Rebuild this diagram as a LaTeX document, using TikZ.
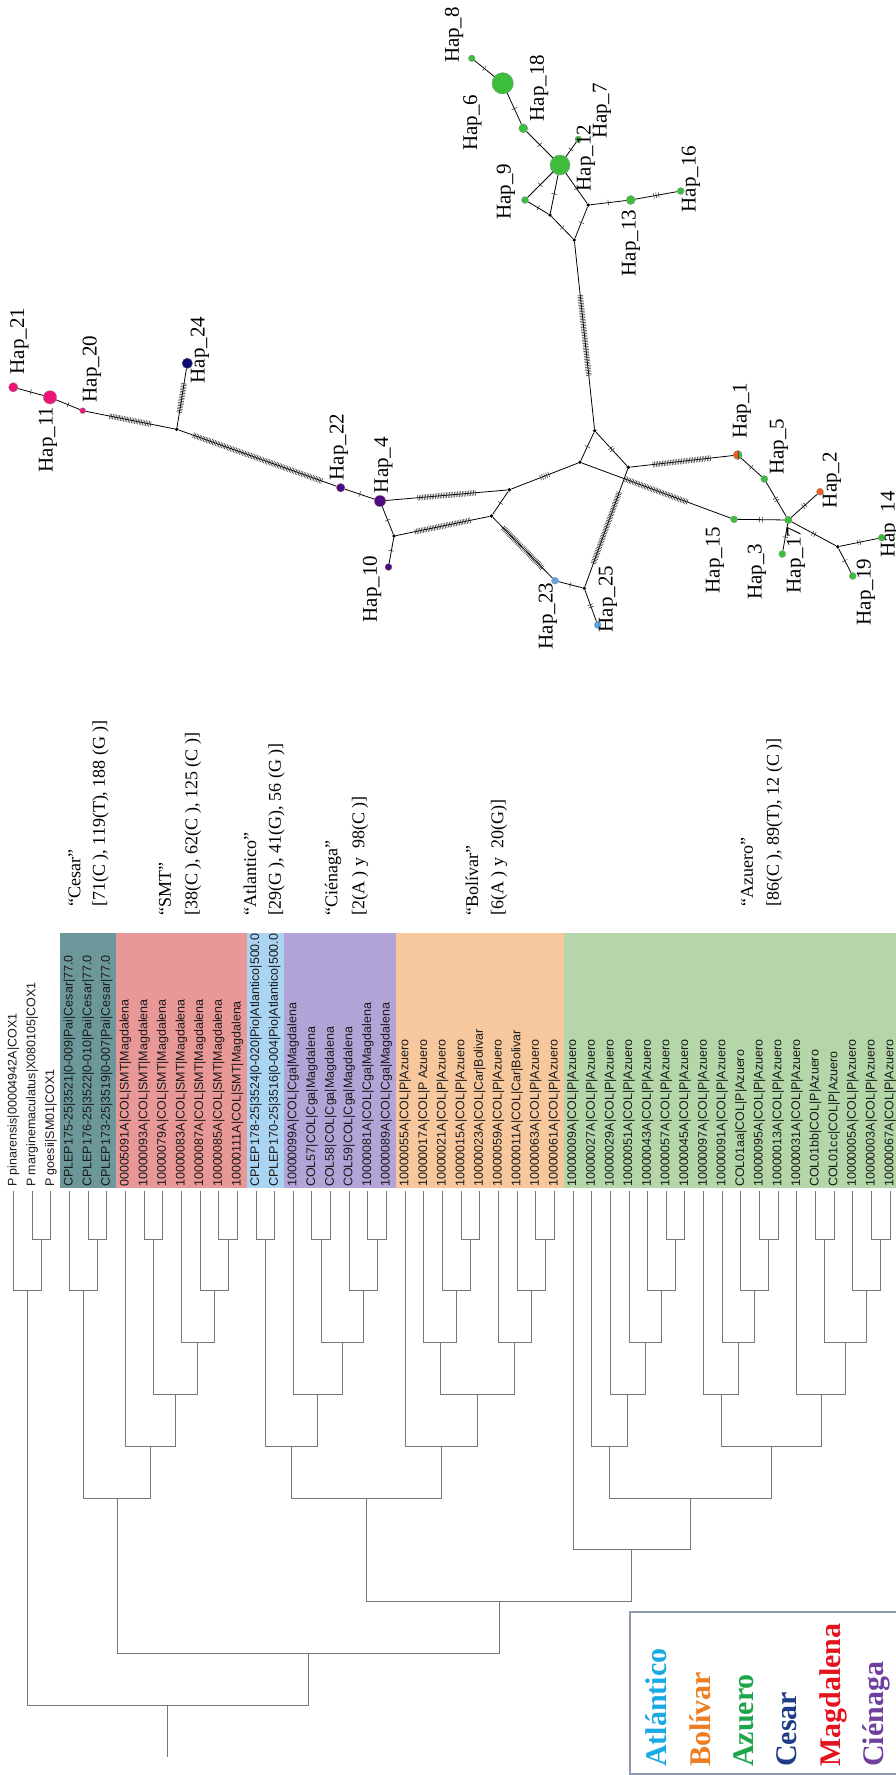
\documentclass[tikz,border=0pt]{standalone}
\usepackage{fontspec}
\setmainfont{Liberation Serif}
\setsansfont{Liberation Sans}
\usetikzlibrary{decorations.markings,calc}
\definecolor{cesarband}{RGB}{108,152,156}
\definecolor{smtband}{RGB}{233,152,152}
\definecolor{atlband}{RGB}{170,212,242}
\definecolor{cgaband}{RGB}{178,164,214}
\definecolor{bolband}{RGB}{247,200,158}
\definecolor{azuband}{RGB}{180,214,168}
\definecolor{hpink}{RGB}{240,20,120}
\definecolor{hnavy}{RGB}{10,10,110}
\definecolor{hpurple}{RGB}{80,10,130}
\definecolor{hgreen}{RGB}{60,190,60}
\definecolor{hblue}{RGB}{90,165,230}
\definecolor{horange}{RGB}{240,90,30}
\definecolor{treegray}{RGB}{120,120,120}
\definecolor{lAtl}{RGB}{25,170,230}
\definecolor{lBol}{RGB}{238,125,34}
\definecolor{lAzu}{RGB}{30,165,75}
\definecolor{lCes}{RGB}{30,60,135}
\definecolor{lMag}{RGB}{228,20,30}
\definecolor{lCie}{RGB}{112,64,160}
\definecolor{legframe}{RGB}{143,152,173}
\newcommand\tcoord[3]{\coordinate (#1) at ({13.5+(#2-1)*18.65},{1187.2+51.8*#3});}
\newcommand\tlink[3]{\draw[tree] (#2) |- (#1) -| (#3);}
\begin{document}
\begin{tikzpicture}[x=1pt,y=-1pt,
 tree/.style={draw=treegray, line width=0.9pt},
 leaflab/.style={rotate=90, anchor=west, inner sep=0pt, font=\sffamily\fontsize{12.5}{14}\selectfont, text=black!90},
 grplab/.style={rotate=90, anchor=west, inner sep=0pt, font=\fontsize{18}{20}\selectfont},
 haplab/.style={rotate=90, inner sep=0pt, font=\fontsize{21}{23}\selectfont},
 leglab/.style={rotate=90, anchor=base west, inner sep=0pt, font=\bfseries\fontsize{30}{32}\selectfont},
 hap/.style={circle, inner sep=0pt, minimum size=#1, draw=black!45, line width=0.3pt},
 med/.style={circle, fill=black, inner sep=0pt, minimum size=3.8pt},
 edge/.style={draw=black, line width=0.8pt},
 tk/.style 2 args={postaction={decorate, decoration={markings, mark=at position 0.5 with {\foreach \k in {1,...,#1}{\draw[black!85, line width=0.5pt] ({((\k-(#1+1)/2)*#2)*1pt},-2.8pt) -- ({((\k-(#1+1)/2)*#2)*1pt},2.8pt);}}}}},
]
\useasboundingbox (0,0) rectangle (896,1775);

% ---------- colour bands ----------
\fill[cesarband] (60.125,933) rectangle (116.075,1188);
\fill[smtband] (116.075,933) rectangle (246.625,1188);
\fill[atlband] (246.625,933) rectangle (283.925,1188);
\fill[cgaband] (283.925,933) rectangle (395.825,1188);
\fill[bolband] (395.825,933) rectangle (563.675,1188);
\fill[azuband] (563.675,933) rectangle (896,1188);

% ---------- leaves ----------
\foreach \i/\t in {
1/{P pinarensis|00004942A|COX1},
2/{P marginemaculatus|X080105|COX1},
3/{P goesii|SM01|COX1},
4/{CPLEP175-25|3521|0-009|Pai|Cesar|77.0},
5/{CPLEP176-25|3522|0-010|Pai|Cesar|77.0},
6/{CPLEP173-25|3519|0-007|Pai|Cesar|77.0},
7/{00005091A|COL|SMT|Magdalena},
8/{10000093A|COL|SMT|Magdalena},
9/{10000079A|COL|SMT|Magdalena},
10/{10000083A|COL|SMT|Magdalena},
11/{10000087A|COL|SMT|Magdalena},
12/{10000085A|COL|SMT|Magdalena},
13/{10000111A|COL|SMT|Magdalena},
14/{CPLEP178-25|3524|0-020|Pio|Atlantico|500.0},
15/{CPLEP170-25|3516|0-004|Pio|Atlantico|500.0},
16/{10000099A|COL|Cga|Magdalena},
17/{COL57|COL|Cga|Magdalena},
18/{COL58|COL|Cga|Magdalena},
19/{COL59|COL|Cga|Magdalena},
20/{10000081A|COL|Cga|Magdalena},
21/{10000089A|COL|Cga|Magdalena},
22/{10000055A|COL|P|Azuero},
23/{10000017A|COL|P Azuero},
24/{10000021A|COL|P|Azuero},
25/{10000015A|COL|P|Azuero},
26/{10000023A|COL|Car|Bolivar},
27/{10000059A|COL|P|Azuero},
28/{10000011A|COL|Car|Bolivar},
29/{10000063A|COL|P|Azuero},
30/{10000061A|COL|P|Azuero},
31/{10000009A|COL|P|Azuero},
32/{10000027A|COL|P|Azuero},
33/{10000029A|COL|P|Azuero},
34/{10000051A|COL|P|Azuero},
35/{10000043A|COL|P|Azuero},
36/{10000057A|COL|P|Azuero},
37/{10000045A|COL|P|Azuero},
38/{10000097A|COL|P|Azuero},
39/{10000091A|COL|P|Azuero},
40/{COL01aa|COL|P|Azuero},
41/{10000095A|COL|P|Azuero},
42/{10000013A|COL|P|Azuero},
43/{10000031A|COL|P|Azuero},
44/{COL01bb|COL|P|Azuero},
45/{COL01cc|COL|P|Azuero},
46/{10000005A|COL|P|Azuero},
47/{10000003A|COL|P|Azuero},
48/{10000067A|COL|P|Azuero}}{
  \coordinate (l\i) at ({13.5+(\i-1)*18.65},1191);
  \node[leaflab] (lab\i) at ({13.5+(\i-1)*18.65},1187) {\t};
}

% ---------- internal tree nodes ----------
\tcoord{A1}{2.5}{1} \tcoord{A2}{1.75}{2}
\tcoord{C1}{5.5}{1} \tcoord{C2}{4.75}{2}
\tcoord{S1}{8.5}{1} \tcoord{S2}{12.5}{1} \tcoord{S3}{11.75}{2} \tcoord{S4}{10.875}{3} \tcoord{S5}{9.6875}{4} \tcoord{S6}{8.34375}{5}
\tcoord{CS}{6.546875}{6}
\tcoord{T1}{14.5}{1}
\tcoord{G1}{17.5}{1} \tcoord{G2}{20.5}{1} \tcoord{G3}{19.75}{2} \tcoord{G4}{18.625}{3} \tcoord{G5}{17.3125}{4} \tcoord{TG}{15.90625}{5}
\tcoord{B1}{25.5}{1} \tcoord{B2}{24.75}{2} \tcoord{B3}{23.875}{3} \tcoord{B4}{29.5}{1} \tcoord{B5}{28.75}{2} \tcoord{B6}{27.875}{3} \tcoord{B7}{25.875}{4} \tcoord{B8}{23.9375}{5}
\tcoord{TGB}{19.921875}{6}
\tcoord{Z1}{36.5}{1} \tcoord{Z2}{35.75}{2} \tcoord{Z3}{34.875}{3} \tcoord{Z4}{33.9375}{4} \tcoord{Z5}{32.96875}{5}
\tcoord{Z6}{41.5}{1} \tcoord{Z7}{40.75}{2} \tcoord{Z8}{39.875}{3} \tcoord{Z9}{38.9375}{4}
\tcoord{Z10}{44.5}{1} \tcoord{Z11}{47.5}{1} \tcoord{Z12}{46.75}{2} \tcoord{Z13}{45.625}{3} \tcoord{Z14}{44.3125}{4}
\tcoord{Z15}{41.625}{5} \tcoord{Z16}{37.296875}{6} \tcoord{Z17}{34.1484375}{7}
\tcoord{N8}{27.03515625}{8} \tcoord{N9}{16.791015625}{9} \tcoord{R}{9.2705078125}{10}

\tlink{A1}{l2}{l3} \tlink{A2}{l1}{A1}
\tlink{C1}{l5}{l6} \tlink{C2}{l4}{C1}
\tlink{S1}{l8}{l9} \tlink{S2}{l12}{l13} \tlink{S3}{l11}{S2} \tlink{S4}{l10}{S3} \tlink{S5}{S1}{S4} \tlink{S6}{l7}{S5}
\tlink{CS}{C2}{S6}
\tlink{T1}{l14}{l15}
\tlink{G1}{l17}{l18} \tlink{G2}{l20}{l21} \tlink{G3}{l19}{G2} \tlink{G4}{G1}{G3} \tlink{G5}{l16}{G4} \tlink{TG}{T1}{G5}
\tlink{B1}{l25}{l26} \tlink{B2}{l24}{B1} \tlink{B3}{l23}{B2} \tlink{B4}{l29}{l30} \tlink{B5}{l28}{B4} \tlink{B6}{l27}{B5} \tlink{B7}{B3}{B6} \tlink{B8}{l22}{B7}
\tlink{TGB}{TG}{B8}
\tlink{Z1}{l36}{l37} \tlink{Z2}{l35}{Z1} \tlink{Z3}{l34}{Z2} \tlink{Z4}{l33}{Z3} \tlink{Z5}{l32}{Z4}
\tlink{Z6}{l41}{l42} \tlink{Z7}{l40}{Z6} \tlink{Z8}{l39}{Z7} \tlink{Z9}{l38}{Z8}
\tlink{Z10}{l44}{l45} \tlink{Z11}{l47}{l48} \tlink{Z12}{l46}{Z11} \tlink{Z13}{Z10}{Z12} \tlink{Z14}{l43}{Z13}
\tlink{Z15}{Z9}{Z14} \tlink{Z16}{Z5}{Z15} \tlink{Z17}{l31}{Z16}
\tlink{N8}{TGB}{Z17} \tlink{N9}{CS}{N8} \tlink{R}{A2}{N9}
\coordinate (rootend) at ($(R)+(0,52)$);
\draw[tree] (R) -- (rootend);

% ---------- group labels ----------
\node[grplab] (gc1) at (74.5,907) {“Cesar”};
\node[grplab] (gc2) at (100.5,907) {[71(C ), 119(T), 188 (G )]};
\node[grplab] (gs1) at (165,916) {“SMT”};
\node[grplab] (gs2) at (193,916) {[38(C ), 62(C ), 125 (C )]};
\node[grplab] (ga1) at (250,916) {“Atlantico”};
\node[grplab] (ga2) at (276.5,916) {[29(G ), 41(G), 56 (G )]};
\node[grplab] (gg1) at (333,916) {“Ciénaga”};
\node[grplab] (gg2) at (360,916) {[2(A ) y\ \ 98(C )]};
\node[grplab] (gb1) at (472,916) {“Bolívar”};
\node[grplab] (gb2) at (499,916) {[6(A ) y\ \ 20(G)]};
\node[grplab] (gz1) at (747,907) {“Azuero”};
\node[grplab] (gz2) at (774.5,907) {[86(C ), 89(T), 12 (C )]};

% ---------- legend ----------
\draw[legframe, line width=1.2pt] (630,1612) rectangle (899,1774);
\node[leglab, text=lAtl] (lgA) at (666.7,1767) {Atlántico};
\node[leglab, text=lBol] (lgB) at (710,1767) {Bolívar};
\node[leglab, text=lAzu] (lgZ) at (753.3,1767) {Azuero};
\node[leglab, text=lCes] (lgC) at (796.7,1767) {Cesar};
\node[leglab, text=lMag] (lgM) at (840,1767) {Magdalena};
\node[leglab, text=lCie] (lgG) at (883,1767) {Ciénaga};

% ---------- haplotype network: nodes ----------
\node[hap=9.4pt, fill=hpink] (h21) at (13.3,387.3) {};
\node[hap=13.4pt, fill=hpink] (h11) at (50,397.3) {};
\node[hap=6pt, fill=hpink] (h20) at (82.7,410.7) {};
\node[med] (m1) at (176.7,429.3) {};
\node[hap=10.6pt, fill=hnavy] (h24) at (187.3,363.3) {};
\node[hap=8.6pt, fill=hpurple] (h22) at (340.7,487.7) {};
\node[hap=11.4pt, fill=hpurple] (h4) at (380,501) {};
\node[med] (m2) at (394,536) {};
\node[hap=7pt, fill=hpurple] (h10) at (388.5,567) {};
\node[med] (m6) at (509.3,489.8) {};
\node[med] (m7) at (491.5,516) {};
\node[med] (m8) at (580,462.3) {};
\node[med] (m9) at (594.7,430.8) {};
\node[med] (m10) at (628.3,467.3) {};
\node[hap=7pt, fill=hblue] (h23) at (555,580.7) {};
\node[med] (m11) at (584.3,588.3) {};
\node[hap=7pt, fill=hblue] (h25) at (597.7,625) {};
\node[med] (m5) at (574.3,240) {};
\node[hap=7pt, fill=hgreen] (h15) at (734,519.3) {};
\node[hap=9pt, fill=horange, path picture={\fill[hgreen] (path picture bounding box.north) rectangle (path picture bounding box.south east); \draw[black!70, line width=0.4pt] (path picture bounding box.north) -- (path picture bounding box.south);}] (h1) at (737.7,455) {};
\node[hap=7pt, fill=hgreen] (h5) at (764.3,479) {};
\node[hap=7.6pt, fill=hgreen] (h17) at (788.3,520) {};
\node[hap=7pt, fill=horange] (h2) at (820,491.7) {};
\node[hap=7pt, fill=hgreen] (h3) at (782.3,554) {};
\node[med] (m12) at (837.7,546.7) {};
\node[hap=7pt, fill=hgreen] (h14) at (881.7,537.7) {};
\node[hap=7pt, fill=hgreen] (h19) at (852.7,576) {};
\node[hap=6.6pt, fill=hgreen] (h8) at (471.7,58.3) {};
\node[hap=21.4pt, fill=hgreen] (h6) at (502.7,83.3) {};
\node[hap=9pt, fill=hgreen] (h18) at (523.3,128.3) {};
\node[hap=20pt, fill=hgreen] (h7) at (560,165) {};
\node[hap=6.6pt, fill=hgreen] (h12) at (578.3,139.3) {};
\node[hap=7pt, fill=hgreen] (h9) at (525,200) {};
\node[med] (m3) at (550,215) {};
\node[med] (m4) at (588.3,205) {};
\node[hap=9pt, fill=hgreen] (h13) at (630.7,200) {};
\node[hap=7pt, fill=hgreen] (h16) at (680.7,191) {};

% ---------- haplotype network: edges ----------
\draw[edge, tk={1}{0}] (h21) -- (h11);
\draw[edge, tk={1}{0}] (h11) -- (h20);
\draw[edge, tk={27}{1.6}] (h20) -- (m1);
\draw[edge, tk={19}{1.6}] (m1) -- (h24);
\draw[edge, tk={86}{1.6}] (m1) -- (h22);
\draw[edge, tk={1}{0}] (h22) -- (h4);
\draw[edge, tk={1}{0}] (h4) -- (m2);
\draw[edge, tk={1}{0}] (m2) -- (h10);
\draw[edge, tk={37}{1.6}] (h4) -- (m6);
\draw[edge, tk={36}{1.6}] (m2) -- (m7);
\draw[edge, tk={1}{0}] (m6) -- (m7);
\draw[edge, tk={5}{2.2}] (m6) -- (m8);
\draw[edge, tk={1}{0}] (m8) -- (m9);
\draw[edge, tk={2}{2.6}] (m9) -- (m10);
\draw[edge, tk={42}{1.6}] (m8) -- (h15);
\draw[edge, tk={37}{1.6}] (m10) -- (h1);
\draw[edge, tk={48}{1.6}] (m10) -- (m11);
\draw[edge, tk={36}{1.6}] (m7) -- (h23);
\draw[edge, tk={1}{0}] (h23) -- (m11);
\draw[edge, tk={2}{2.6}] (m11) -- (h25);
\draw[edge, tk={51}{1.6}] (m5) -- (m9);
\draw[edge, tk={1}{0}] (h1) -- (h5);
\draw[edge, tk={2}{2.6}] (h5) -- (h17);
\draw[edge, tk={2}{2.6}] (h15) -- (h17);
\draw[edge, tk={2}{2.6}] (h17) -- (h2);
\draw[edge, tk={1}{0}] (h17) -- (h3);
\draw[edge, tk={2}{2.6}] (h17) -- (m12);
\draw[edge, tk={2}{2.6}] (m12) -- (h14);
\draw[edge, tk={1}{0}] (m12) -- (h19);
\draw[edge, tk={1}{0}] (h8) -- (h6);
\draw[edge, tk={1}{0}] (h6) -- (h18);
\draw[edge, tk={1}{0}] (h18) -- (h7);
\draw[edge, tk={1}{0}] (h7) -- (h12);
\draw[edge, tk={1}{0}] (h7) -- (h9);
\draw[edge, tk={1}{0}] (h7) -- (m3);
\draw[edge, tk={1}{0}] (h7) -- (m4);
\draw[edge, tk={1}{0}] (h9) -- (m3);
\draw[edge, tk={1}{0}] (m3) -- (m5);
\draw[edge, tk={1}{0}] (m4) -- (m5);
\draw[edge, tk={1}{0}] (m4) -- (h13);
\draw[edge, tk={3}{2.4}] (h13) -- (h16);

% ---------- haplotype labels ----------
\node[haplab] (t21) at (19.5,341) {Hap\_21};
\node[haplab] (t11) at (48,439.5) {Hap\_11};
\node[haplab] (t20) at (92,369) {Hap\_20};
\node[haplab] (t24) at (200,350) {Hap\_24};
\node[haplab] (t22) at (339,447) {Hap\_22};
\node[haplab] (t4) at (383.5,465) {Hap\_4};
\node[haplab] (t10) at (372,589) {Hap\_10};
\node[haplab] (t8) at (454,35) {Hap\_8};
\node[haplab] (t6) at (472.5,122.5) {Hap\_6};
\node[haplab] (t18) at (539,88) {Hap\_18};
\node[haplab] (t7) at (602,111) {Hap\_7};
\node[haplab] (t12) at (586,158) {Hap\_12};
\node[haplab] (t9) at (506,191.5) {Hap\_9};
\node[haplab] (t13) at (631,243) {Hap\_13};
\node[haplab] (t16) at (691,179) {Hap\_16};
\node[haplab] (t1) at (742,410.5) {Hap\_1};
\node[haplab] (t5) at (779,446.5) {Hap\_5};
\node[haplab] (t2) at (832,480) {Hap\_2};
\node[haplab] (t14) at (890,524.5) {Hap\_14};
\node[haplab] (t15) at (715,560) {Hap\_15};
\node[haplab] (t3) at (757,571.5) {Hap\_3};
\node[haplab] (t17) at (796,560) {Hap\_17};
\node[haplab] (t19) at (866,592) {Hap\_19};
\node[haplab] (t23) at (548,616) {Hap\_23};
\node[haplab] (t25) at (608,599) {Hap\_25};
\end{tikzpicture}
\end{document}
